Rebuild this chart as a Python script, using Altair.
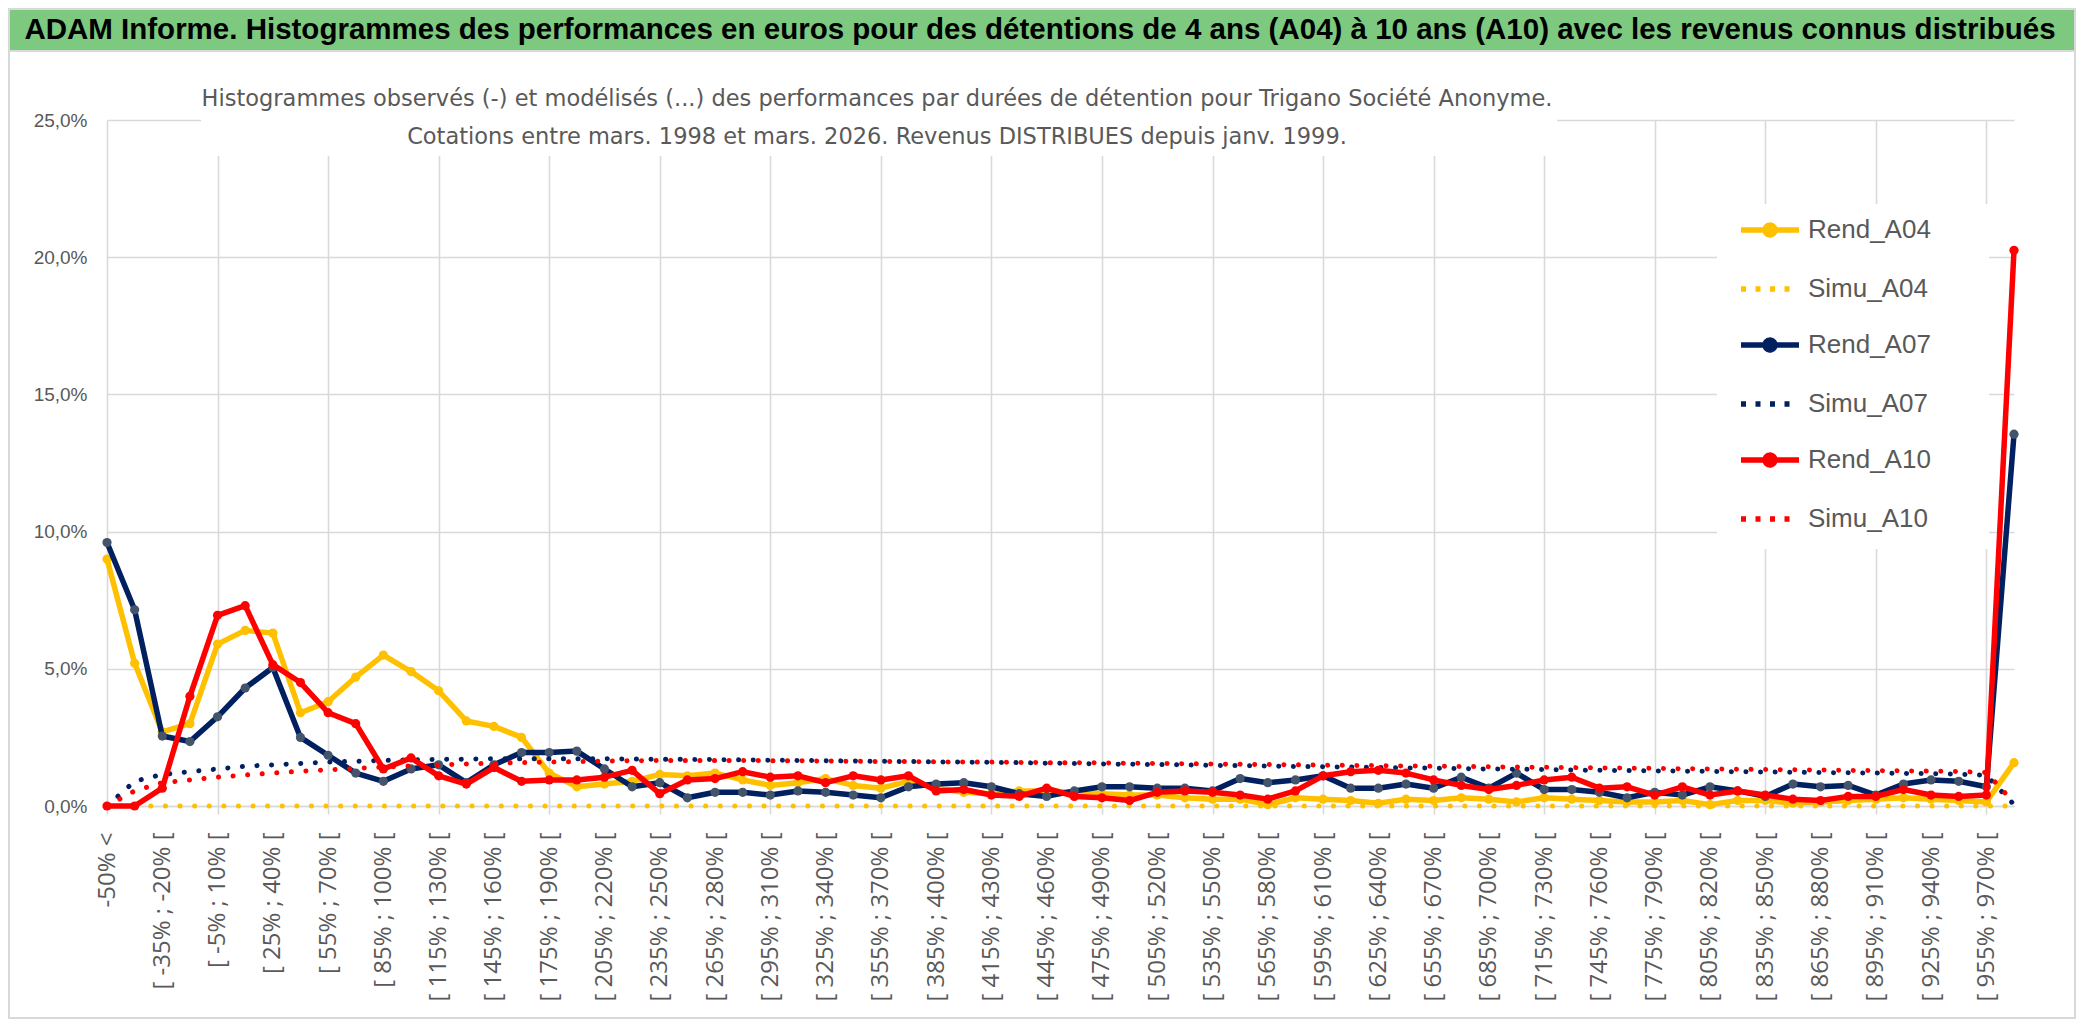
import json
import altair as alt
import pandas as pd

# ---------------- data ----------------
categories = [
    "-50% <", "[ -50% ; -35% [", "[ -35% ; -20% [", "[ -20% ; -5% [", "[ -5% ; 10% [",
    "[ 10% ; 25% [", "[ 25% ; 40% [", "[ 40% ; 55% [", "[ 55% ; 70% [", "[ 70% ; 85% [",
    "[ 85% ; 100% [", "[ 100% ; 115% [", "[ 115% ; 130% [", "[ 130% ; 145% [", "[ 145% ; 160% [",
    "[ 160% ; 175% [", "[ 175% ; 190% [", "[ 190% ; 205% [", "[ 205% ; 220% [", "[ 220% ; 235% [",
    "[ 235% ; 250% [", "[ 250% ; 265% [", "[ 265% ; 280% [", "[ 280% ; 295% [", "[ 295% ; 310% [",
    "[ 310% ; 325% [", "[ 325% ; 340% [", "[ 340% ; 355% [", "[ 355% ; 370% [", "[ 370% ; 385% [",
    "[ 385% ; 400% [", "[ 400% ; 415% [", "[ 415% ; 430% [", "[ 430% ; 445% [", "[ 445% ; 460% [",
    "[ 460% ; 475% [", "[ 475% ; 490% [", "[ 490% ; 505% [", "[ 505% ; 520% [", "[ 520% ; 535% [",
    "[ 535% ; 550% [", "[ 550% ; 565% [", "[ 565% ; 580% [", "[ 580% ; 595% [", "[ 595% ; 610% [",
    "[ 610% ; 625% [", "[ 625% ; 640% [", "[ 640% ; 655% [", "[ 655% ; 670% [", "[ 670% ; 685% [",
    "[ 685% ; 700% [", "[ 700% ; 715% [", "[ 715% ; 730% [", "[ 730% ; 745% [", "[ 745% ; 760% [",
    "[ 760% ; 775% [", "[ 775% ; 790% [", "[ 790% ; 805% [", "[ 805% ; 820% [", "[ 820% ; 835% [",
    "[ 835% ; 850% [", "[ 850% ; 865% [", "[ 865% ; 880% [", "[ 880% ; 895% [", "[ 895% ; 910% [",
    "[ 910% ; 925% [", "[ 925% ; 940% [", "[ 940% ; 955% [", "[ 955% ; 970% [", "970% >",
]

# values in percent
rend_a04 = [
    9.0, 5.2, 2.7, 3.0, 5.9, 6.4, 6.3, 3.4, 3.8, 4.7,
    5.5, 4.9, 4.2, 3.1, 2.9, 2.5, 1.2, 0.7, 0.8, 0.9,
    1.15, 1.1, 1.2, 0.95, 0.75, 0.85, 1.0, 0.75, 0.65, 0.9,
    0.65, 0.5, 0.45, 0.55, 0.55, 0.5, 0.45, 0.4, 0.4, 0.3,
    0.25, 0.25, 0.05, 0.3, 0.25, 0.2, 0.1, 0.25, 0.2, 0.3,
    0.25, 0.15, 0.3, 0.25, 0.2, 0.15, 0.15, 0.2, 0.05, 0.2,
    0.2, 0.1, 0.15, 0.2, 0.25, 0.3, 0.25, 0.2, 0.15, 1.58,
]
simu_a04 = [
    0.0, 0.0, 0.0, 0.0, 0.0, 0.0, 0.0, 0.0, 0.0, 0.0,
    0.0, 0.0, 0.0, 0.0, 0.0, 0.0, 0.0, 0.0, 0.0, 0.0,
    0.0, 0.0, 0.0, 0.0, 0.0, 0.0, 0.0, 0.0, 0.0, 0.0,
    0.0, 0.0, 0.0, 0.0, 0.0, 0.0, 0.0, 0.0, 0.0, 0.0,
    0.0, 0.0, 0.0, 0.0, 0.0, 0.0, 0.0, 0.0, 0.0, 0.0,
    0.0, 0.0, 0.0, 0.0, 0.0, 0.0, 0.0, 0.0, 0.0, 0.0,
    0.0, 0.0, 0.0, 0.0, 0.0, 0.0, 0.0, 0.0, 0.0, 0.0,
]
rend_a07 = [
    9.6, 7.15, 2.55, 2.35, 3.25, 4.3, 5.05, 2.5, 1.85, 1.2,
    0.9, 1.35, 1.5, 0.85, 1.5, 1.95, 1.95, 2.0, 1.35, 0.7,
    0.85, 0.3, 0.5, 0.5, 0.4, 0.55, 0.5, 0.4, 0.3, 0.7,
    0.8, 0.85, 0.7, 0.45, 0.35, 0.55, 0.7, 0.7, 0.65, 0.65,
    0.55, 1.0, 0.85, 0.95, 1.1, 0.65, 0.65, 0.8, 0.65, 1.05,
    0.65, 1.2, 0.6, 0.6, 0.5, 0.3, 0.5, 0.4, 0.7, 0.55,
    0.35, 0.8, 0.7, 0.75, 0.4, 0.8, 0.95, 0.9, 0.7, 13.55,
]
simu_a07 = [
    0.0, 0.9, 1.15, 1.25, 1.35, 1.45, 1.5, 1.55, 1.6, 1.63,
    1.66, 1.68, 1.7, 1.71, 1.72, 1.72, 1.72, 1.72, 1.72, 1.71,
    1.7, 1.7, 1.69, 1.68, 1.67, 1.66, 1.65, 1.64, 1.63, 1.62,
    1.61, 1.6, 1.59, 1.58, 1.56, 1.55, 1.53, 1.52, 1.51, 1.5,
    1.48, 1.47, 1.46, 1.44, 1.43, 1.42, 1.4, 1.39, 1.38, 1.36,
    1.35, 1.34, 1.33, 1.31, 1.3, 1.29, 1.28, 1.27, 1.26, 1.25,
    1.24, 1.23, 1.22, 1.21, 1.2, 1.19, 1.18, 1.16, 1.12, 0.05,
]
rend_a10 = [
    0.0, 0.0, 0.65, 4.0, 6.95, 7.3, 5.15, 4.5, 3.4, 3.0,
    1.35, 1.75, 1.1, 0.8, 1.4, 0.9, 0.95, 0.95, 1.05, 1.3,
    0.45, 0.95, 1.0, 1.25, 1.05, 1.1, 0.85, 1.1, 0.95, 1.1,
    0.55, 0.6, 0.4, 0.35, 0.65, 0.35, 0.3, 0.2, 0.5, 0.55,
    0.5, 0.4, 0.25, 0.55, 1.1, 1.25, 1.3, 1.2, 0.95, 0.75,
    0.6, 0.75, 0.95, 1.05, 0.65, 0.7, 0.4, 0.7, 0.4, 0.55,
    0.4, 0.25, 0.2, 0.35, 0.35, 0.6, 0.4, 0.35, 0.4, 20.25,
]
simu_a10 = [
    0.0, 0.55, 0.85, 0.95, 1.05, 1.13, 1.2, 1.27, 1.32, 1.37,
    1.42, 1.46, 1.5, 1.53, 1.56, 1.58, 1.6, 1.62, 1.64, 1.65,
    1.66, 1.66, 1.66, 1.66, 1.65, 1.65, 1.64, 1.63, 1.62, 1.62,
    1.61, 1.6, 1.6, 1.59, 1.58, 1.58, 1.57, 1.56, 1.55, 1.54,
    1.53, 1.52, 1.51, 1.5, 1.49, 1.48, 1.47, 1.46, 1.45, 1.44,
    1.43, 1.42, 1.41, 1.4, 1.39, 1.38, 1.37, 1.36, 1.35, 1.34,
    1.33, 1.32, 1.31, 1.3, 1.29, 1.28, 1.27, 1.26, 1.22, 0.12,
]

series_names = ["Rend_A04", "Simu_A04", "Rend_A07", "Simu_A07", "Rend_A10", "Simu_A10"]
series_values = {
    "Rend_A04": rend_a04, "Simu_A04": simu_a04,
    "Rend_A07": rend_a07, "Simu_A07": simu_a07,
    "Rend_A10": rend_a10, "Simu_A10": simu_a10,
}
series_colors = ["#FFC000", "#FFC000", "#002060", "#002060", "#FF0000", "#FF0000"]
marker_colors = {"Rend_A04": "#FFC000", "Rend_A07": "#44546A", "Rend_A10": "#FF0000"}

y_ticks = [0.0, 0.05, 0.10, 0.15, 0.20, 0.25]

titre = ("ADAM Informe. Histogrammes des performances en euros pour des détentions "
         "de 4 ans (A04) à 10 ans (A10) avec les revenus connus distribués")
sous_titre_1 = ("Histogrammes observés (-) et modélisés (...) des performances par durées "
                "de détention pour Trigano Société Anonyme.")
sous_titre_2 = "Cotations entre mars. 1998 et mars. 2026. Revenus DISTRIBUES depuis janv. 1999."

# ---------------- long table ----------------
rows = []
for s in series_names:
    for c, v in zip(categories, series_values[s]):
        rows.append({"serie": s, "classe": c, "part": v / 100.0})
df = pd.DataFrame(rows)

# ---------------- styling ----------------
W, H = 1907, 686
GRID = "#D9D9D9"
TXT = "#595959"
NARROW = "Liberation Sans Narrow, Liberation Sans, sans-serif"

label_values = categories[::2]
grid_values = categories[::4]
grid_test = "indexof(%s, datum.value) >= 0" % json.dumps(grid_values, ensure_ascii=False)

x_enc = alt.X(
    "classe:N",
    scale=alt.Scale(type="point", padding=0, domain=categories),
    axis=alt.Axis(
        values=label_values, labelAngle=270, labelFont="Open Sans", labelFontSize=24,
        labelColor=TXT, labelPadding=18, labelOverlap=False, labelLimit=400,
        grid=True, gridColor=GRID, gridWidth=1.6,
        gridOpacity={"condition": {"test": grid_test, "value": 1}, "value": 0},
        ticks=True, tickSize=8, tickColor=GRID, tickWidth=1.6,
        tickOpacity={"condition": {"test": grid_test, "value": 1}, "value": 0},
        domainColor=GRID, domainWidth=1.6,
    ),
    title=None,
)
y_enc = alt.Y(
    "part:Q",
    scale=alt.Scale(domain=[0, 0.25], nice=False),
    axis=alt.Axis(
        values=y_ticks, labelExpr="replace(format(datum.value, '.1%'), '.', ',')",
        labelFont=NARROW, labelFontSize=19, labelColor=TXT, labelPadding=20,
        grid=True, gridColor=GRID, gridWidth=1.6, domain=False, ticks=False,
    ),
    title=None,
)

rend_path = "M-1,0L1,0M0.17,0A0.17,0.17,0,1,1,-0.17,0A0.17,0.17,0,1,1,0.17,0"
legend = alt.Legend(
    orient="none", legendX=1631, legendY=78, title=None, padding=0, rowPadding=11,
    labelOffset=6, labelFont=NARROW, labelFontSize=26, labelColor=TXT, labelLimit=400,
    symbolSize=3364, symbolStrokeWidth=5.5,
    symbolType={"expr": "indexof(datum.label, 'Rend') === 0 ? '%s' : 'stroke'" % rend_path},
    symbolDash={"expr": "indexof(datum.label, 'Simu') === 0 ? [5, 9.5] : [1, 0]"},
    symbolFillColor={"expr": ("datum.label === 'Rend_A04' ? '%s' : datum.label === 'Rend_A07' ? '%s' : "
                              "datum.label === 'Rend_A10' ? '%s' : 'transparent'")
                     % (marker_colors["Rend_A04"], marker_colors["Rend_A07"], marker_colors["Rend_A10"])},
)
color_enc = alt.Color("serie:N", scale=alt.Scale(domain=series_names, range=series_colors), legend=legend)

# ---------------- decorations ----------------
one = pd.DataFrame({"texte": [titre]})
frame = alt.Chart(one).mark_rect(fill="white", fillOpacity=0, stroke=GRID, strokeWidth=2).encode(
    x=alt.value(-98), x2=alt.value(1968), y=alt.value(-69), y2=alt.value(898))
banner = alt.Chart(one).mark_rect(color="#7DC97F", stroke=GRID, strokeWidth=2).encode(
    x=alt.value(-98), x2=alt.value(1968), y=alt.value(-111), y2=alt.value(-69))
banner_txt = alt.Chart(one).mark_text(
    font="Liberation Sans", fontWeight="bold", fontSize=29.5, color="black",
    align="center", baseline="middle").encode(
    text="texte:N", x=alt.value(933), y=alt.value(-90))
sub_box = alt.Chart(one).mark_rect(color="white").encode(
    x=alt.value(94), x2=alt.value(1450), y=alt.value(-67), y2=alt.value(36))
sub1 = alt.Chart(pd.DataFrame({"texte": [sous_titre_1]})).mark_text(
    font="DejaVu Sans", fontSize=22.5, color=TXT, align="center", baseline="middle").encode(
    text="texte:N", x=alt.value(770), y=alt.value(-21))
sub2 = alt.Chart(pd.DataFrame({"texte": [sous_titre_2]})).mark_text(
    font="DejaVu Sans", fontSize=22.5, color=TXT, align="center", baseline="middle").encode(
    text="texte:N", x=alt.value(770), y=alt.value(17))
legend_box = alt.Chart(one).mark_rect(color="white").encode(
    x=alt.value(1610), x2=alt.value(1882), y=alt.value(84), y2=alt.value(429))

layers = [frame, banner, banner_txt, sub_box, sub1, sub2, legend_box]
base = alt.Chart(df)
for s in series_names:
    f = base.transform_filter(alt.datum.serie == s)
    if s.startswith("Rend"):
        layers.append(f.mark_line(strokeWidth=5.5, strokeCap="round", strokeJoin="round").encode(
            x=x_enc, y=y_enc, color=color_enc))
        layers.append(f.mark_circle(size=85, opacity=1, color=marker_colors[s]).encode(x=x_enc, y=y_enc))
    else:
        layers.append(f.mark_line(strokeWidth=5, strokeCap="round", strokeJoin="round",
                                  strokeDash=[0.1, 14.5]).encode(x=x_enc, y=y_enc, color=color_enc))

chart = alt.layer(*layers).properties(width=W, height=H, padding=0).configure_view(stroke="transparent")

chart.save("out.html", embed_options={"renderer": "svg", "actions": False})
